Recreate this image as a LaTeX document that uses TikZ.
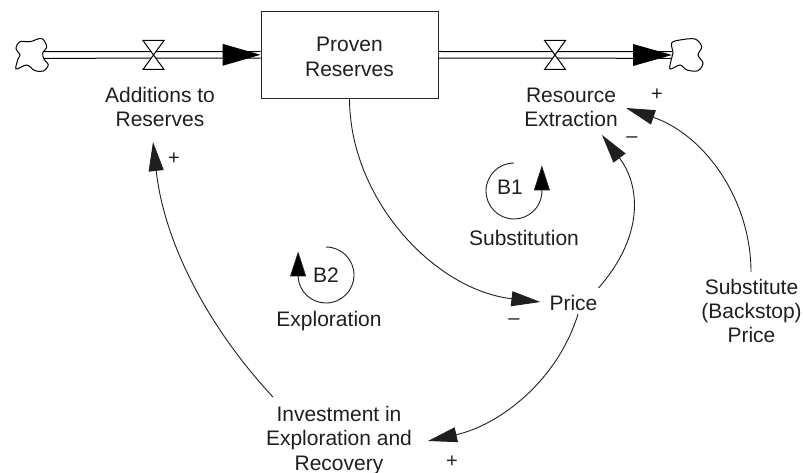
\documentclass[tikz,border=0pt]{standalone}
\usepackage{fontspec}
\setmainfont{Liberation Sans}
\usetikzlibrary{arrows.meta}
\definecolor{ink}{gray}{0.12}
\tikzset{
  every node/.style={font=\fontsize{21}{24.2}\selectfont},
  lab/.style={align=center,inner sep=0pt,text=ink},
  sign/.style={inner sep=0pt,text=ink,font=\fontsize{20}{22}\selectfont},
  pipe/.style={draw=black,line width=1pt},
  stockbox/.style={draw=black!85,line width=1pt,fill=white,minimum width=177pt,minimum height=87.5pt,align=center,inner sep=0pt,text=ink},
  cloudshape/.style={draw=black,line width=1pt,fill=white},
  valve/.style={draw=black,line width=1pt,fill=white},
  link/.style={draw=ink,line width=0.9pt,-{Triangle[length=29pt,width=15pt,fill=ink]}},
  loopline/.style={draw=ink,line width=0.9pt,-{Triangle[length=25pt,width=16pt,fill=black]}},
  flowtip/.style={fill=black,draw=none}
}
\begin{document}
\begin{tikzpicture}[x=1pt,y=-1pt]
\useasboundingbox (0,0) rectangle (803,473);
\node[stockbox] (stock) at (349.5,54.8) {\rule{0pt}{18.5pt}Proven\\Reserves};
\coordinate (srcL) at (44,55);
\coordinate (sinkR) at (672,55);
% pipes
\draw[pipe] ([shift={(0,-3.3)}]srcL) -- ([shift={(0,-3.3)}]stock.west);
\draw[pipe] ([shift={(0,3.3)}]srcL) -- ([shift={(0,3.3)}]stock.west);
\draw[pipe] ([shift={(0,-3.3)}]stock.east) -- ([shift={(0,-3.3)}]sinkR);
\draw[pipe] ([shift={(0,3.3)}]stock.east) -- ([shift={(0,3.3)}]sinkR);
% clouds
\draw[cloudshape] plot[smooth cycle,tension=0.55] coordinates {(20,41.7) (30,41.7) (41.7,38.5) (46.7,46.7) (42.7,53) (44,59.3) (48.3,65) (43.3,71) (35,70.7) (26.7,65) (16,69) (18.3,58.3) (20,55) (16,48.3)};
\draw[cloudshape] plot[smooth cycle,tension=0.55] coordinates {(671.7,43) (680,40) (695,39) (701.7,46.7) (698,55) (703,63) (698,70.7) (687,70) (680,65) (670,69) (671.7,58) (673,53)};
% flow arrowheads
\fill[flowtip] (stock.west) -- ++(-38,-11) -- ++(0,22) -- cycle;
\fill[flowtip] (sinkR) -- ++(-39,-11) -- ++(0,22) -- cycle;
% valves
\foreach \vx in {153.5,555}{
  \draw[valve] (\vx-10.5,40.5) -- (\vx+10.5,40.5) -- (\vx-10.5,69.5) -- (\vx+10.5,69.5) -- cycle;
}
% labels
\node[lab] (add) at (160,107) {Additions to\\Reserves};
\node[lab] (res) at (571,107) {Resource\\Extraction};
\node[lab] (price) at (573.5,303) {Price};
\node[lab] (subst) at (751.5,311) {Substitute\\(Backstop)\\Price};
\node[lab] (inv) at (339,440.5) {Investment in\\Exploration and\\Recovery};
\node[lab] (b1) at (510,187) {B1};
\node[lab] (sub) at (524,238) {Substitution};
\node[lab] (b2) at (326,275) {B2};
\node[lab] (expl) at (329,321) {Exploration};
% connectors
\draw[link] (stock.south) .. controls (350,200) and (435,290) .. ([shift={(-9,-1)}]price.west);
\draw[link] ([shift={(25,-15)}]price.center) .. controls (645,235) and (640,185) .. ([shift={(31,28)}]res.center);
\draw[link] ([shift={(-0.5,-39)}]subst.center) .. controls (751,200) and (705,135) .. ([shift={(55,1)}]res.center);
\draw[link] ([shift={(4.5,11)}]price.center) .. controls (558,380) and (500,425) .. ([shift={(89,0.5)}]inv.center);
\draw[link] ([shift={(-66,-43.5)}]inv.center) .. controls (215,335) and (165,250) .. ([shift={(-7,35)}]add.center);
% loops
\draw[loopline] ([shift={(4,-24)}]b1.center) arc[start angle=270,delta angle=-265,radius=28] -- ++(0,-28);
\draw[loopline] ([shift={(0,-28)}]b2.center) arc[start angle=270,delta angle=265,radius=28] -- ++(0,-26);
% signs
\node[sign] (s1) at (174,159) {+};
\node[sign] (s2) at (657,95) {+};
\node[sign] (s3) at (632,140) {\textendash};
\node[sign] (s4) at (514,322) {\textendash};
\node[sign] (s5) at (452,462) {+};
\end{tikzpicture}
\end{document}
